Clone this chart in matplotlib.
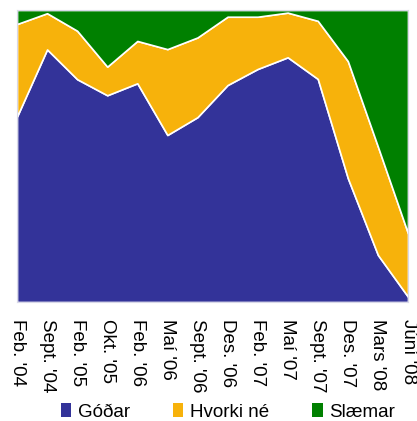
import matplotlib
matplotlib.use("Agg")
import matplotlib.pyplot as plt
import numpy as np

plt.rcParams["font.family"] = ["Liberation Sans", "DejaVu Sans"]

labels = ["Feb. '04", "Sept. '04", "Feb. '05", "Okt. '05", "Feb. '06", "Maí '06",
          "Sept. '06", "Des. '06", "Feb. '07", "Maí '07", "Sept. '07", "Des. '07",
          "Mars '08", "Júní '08"]
godar = [63.5, 86.5, 76.3, 70.8, 74.9, 57.2, 63.3, 74.3, 79.8, 83.8, 76.4, 42.4, 16.1, 1.8]
hvorki = [31.7, 12.4, 16.6, 9.8, 14.5, 29.4, 27.3, 23.4, 17.9, 15.3, 19.9, 40.1, 37.1, 21.7]
slaemar = [4.8, 1.1, 7.1, 19.4, 10.6, 13.4, 9.4, 2.3, 2.3, 0.9, 3.7, 17.5, 46.8, 76.5]

colors = ["#333399", "#f7b20b", "#008000"]
names = ["Góðar", "Hvorki né", "Slæmar"]

fig = plt.figure(figsize=(4.17, 4.21), dpi=100)
ax = fig.add_axes([17 / 417, 1 - 302 / 421, 391 / 417, 292 / 421])

x = np.arange(len(labels))
ax.stackplot(x, godar, hvorki, slaemar, colors=colors, labels=names,
             edgecolor="white", linewidth=1.2)
ax.set_xlim(0, len(labels) - 1)
ax.set_ylim(0, 100)
ax.set_yticks([])
ax.set_xticks(x)
ax.set_xticklabels(labels, rotation=270, fontsize=13.5, va="top", ha="center")
ax.tick_params(axis="x", length=0, pad=12)
for s in ax.spines.values():
    s.set_color("#d8d8e8")
    s.set_linewidth(0.8)

leg = fig.legend(loc="center left", bbox_to_anchor=(61 / 417, 1 - 412 / 421), ncol=3,
                 frameon=False, fontsize=13.5, borderpad=0, borderaxespad=0,
                 handlelength=0.55, handleheight=0.7, handletextpad=0.35,
                 columnspacing=2.3)
for h in leg.legend_handles:
    h.set_edgecolor("none")

fig.savefig("out.png", dpi=100)
